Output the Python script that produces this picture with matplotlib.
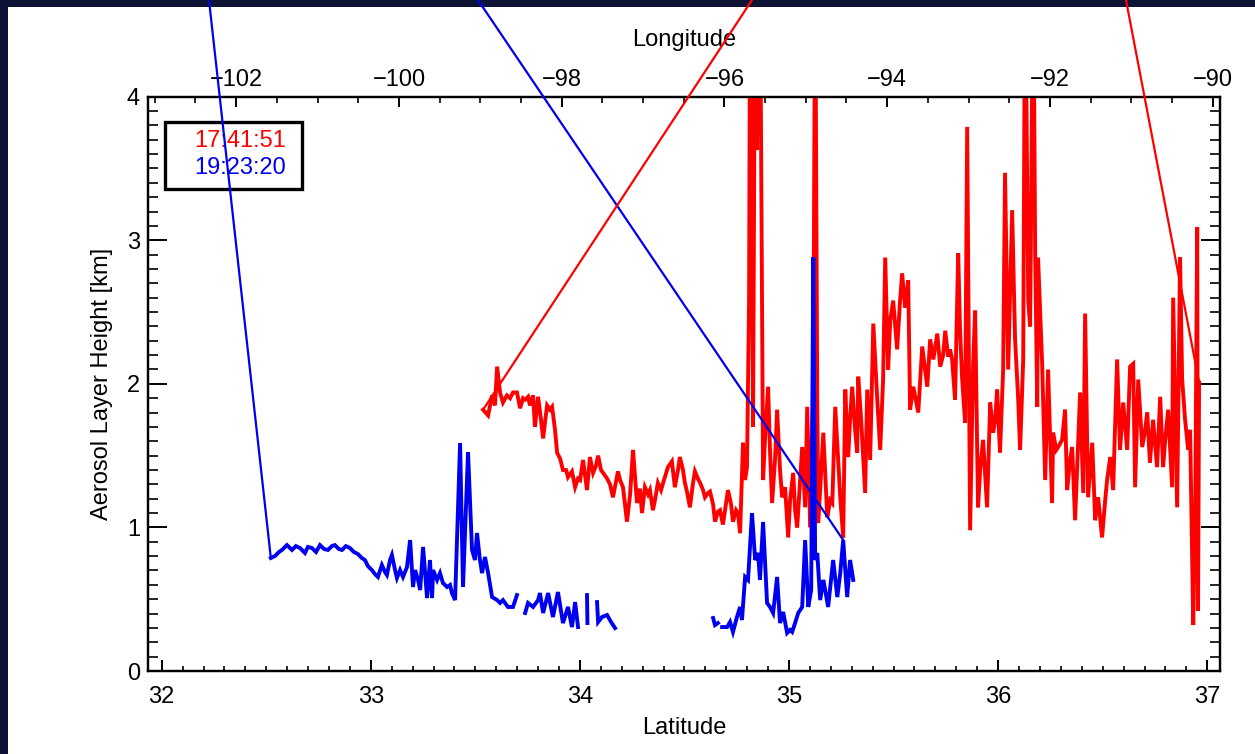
import numpy as np
import matplotlib
matplotlib.use("Agg")
import matplotlib.pyplot as plt
from matplotlib.patches import Rectangle, ConnectionPatch
from matplotlib.ticker import MultipleLocator

# ---------------- data ----------------
red_label = "17:41:51"
blue_label = "19:23:20"

red_lat = [33.537, 33.561, 33.580, 33.594, 33.604, 33.618, 33.632, 33.651, 33.666, 33.680,
           33.699, 33.714, 33.728, 33.738, 33.752, 33.761, 33.776, 33.785, 33.800, 33.814,
           33.824, 33.843, 33.857, 33.867, 33.881, 33.891, 33.905, 33.919, 33.934, 33.943,
           33.962, 33.977, 33.991, 34.001, 34.015, 34.034, 34.048, 34.063, 34.077, 34.087,
           34.101, 34.111, 34.130, 34.144, 34.158, 34.182, 34.192, 34.206, 34.225, 34.240,
           34.254, 34.273, 34.287, 34.297, 34.311, 34.326, 34.335, 34.349, 34.359, 34.373,
           34.388, 34.402, 34.421, 34.440, 34.454, 34.469, 34.478, 34.493, 34.502, 34.512,
           34.526, 34.540, 34.550, 34.564, 34.575, 34.589, 34.598, 34.613, 34.622, 34.637,
           34.646, 34.660, 34.670, 34.684, 34.694, 34.708, 34.723, 34.732, 34.747, 34.756,
           34.766, 34.780, 34.790, 34.799, 34.809, 34.814, 34.823, 34.828, 34.838, 34.847,
           34.852, 34.861, 34.871, 34.876, 34.885, 34.900, 34.909, 34.919, 34.933, 34.943,
           34.957, 34.967, 34.981, 34.996, 35.005, 35.020, 35.029, 35.039, 35.053, 35.063,
           35.077, 35.087, 35.101, 35.116, 35.125, 35.135, 35.140, 35.154, 35.164, 35.183,
           35.197, 35.207, 35.221, 35.235, 35.245, 35.259, 35.269, 35.283, 35.292, 35.302,
           35.316, 35.326, 35.331, 35.345, 35.364, 35.374, 35.388, 35.403, 35.422, 35.436,
           35.450, 35.460, 35.474, 35.484, 35.498, 35.517, 35.531, 35.541, 35.555, 35.570,
           35.579, 35.594, 35.618, 35.637, 35.651, 35.661, 35.675, 35.690, 35.709, 35.723,
           35.737, 35.747, 35.761, 35.770, 35.780, 35.794, 35.809, 35.818, 35.828, 35.842,
           35.852, 35.866, 35.880, 35.890, 35.904, 35.914, 35.928, 35.947, 35.962, 35.976,
           35.986, 35.995, 36.009, 36.024, 36.033, 36.048, 36.067, 36.081, 36.096, 36.105,
           36.120, 36.129, 36.144, 36.153, 36.168, 36.177, 36.187, 36.191, 36.211, 36.225,
           36.239, 36.258, 36.263, 36.278, 36.287, 36.306, 36.320, 36.330, 36.344, 36.354,
           36.368, 36.392, 36.407, 36.416, 36.430, 36.450, 36.464, 36.478, 36.497, 36.512,
           36.521, 36.536, 36.550, 36.569, 36.583, 36.598, 36.617, 36.631, 36.646, 36.655,
           36.670, 36.689, 36.703, 36.713, 36.726, 36.741, 36.760, 36.775, 36.789, 36.799,
           36.813, 36.832, 36.837, 36.856, 36.870, 36.880, 36.894, 36.909, 36.918, 36.933,
           36.942, 36.952, 36.956, 36.961]

red_height = [1.82, 1.78, 1.92, 1.85, 2.12, 1.94, 1.87, 1.92, 1.90, 1.94,
              1.94, 1.83, 1.90, 1.89, 1.91, 1.85, 1.92, 1.70, 1.91, 1.75,
              1.62, 1.85, 1.82, 1.84, 1.68, 1.52, 1.48, 1.40, 1.40, 1.35,
              1.39, 1.28, 1.34, 1.33, 1.47, 1.26, 1.49, 1.38, 1.43, 1.50,
              1.40, 1.38, 1.34, 1.30, 1.21, 1.39, 1.33, 1.28, 1.04, 1.23,
              1.54, 1.17, 1.27, 1.10, 1.28, 1.23, 1.26, 1.12, 1.19, 1.31,
              1.26, 1.33, 1.42, 1.46, 1.28, 1.40, 1.49, 1.40, 1.31, 1.25,
              1.14, 1.30, 1.39, 1.34, 1.31, 1.26, 1.21, 1.24, 1.25, 1.16,
              1.04, 1.11, 1.12, 1.02, 1.12, 1.26, 1.16, 1.04, 1.12, 1.10,
              0.96, 1.59, 1.33, 1.42, 2.58, 5.00, 3.28, 1.70, 5.00, 3.63,
              5.00, 5.00, 2.58, 1.33, 1.61, 1.98, 1.54, 1.17, 1.47, 1.82,
              1.40, 1.21, 1.28, 0.93, 1.19, 1.38, 1.12, 1.00, 1.33, 1.56,
              1.14, 1.84, 1.00, 1.94, 5.00, 1.89, 1.03, 1.40, 1.66, 1.07,
              1.19, 1.17, 1.84, 1.47, 1.21, 0.93, 1.96, 1.49, 1.75, 1.98,
              1.68, 1.52, 2.05, 1.75, 1.24, 1.96, 1.47, 2.42, 1.89, 1.54,
              2.03, 2.88, 2.10, 2.44, 2.58, 2.24, 2.58, 2.77, 2.53, 2.72,
              1.82, 1.98, 1.80, 2.26, 2.10, 1.98, 2.31, 2.17, 2.35, 2.12,
              2.20, 2.37, 2.19, 2.24, 2.17, 1.89, 2.91, 2.37, 2.03, 1.73,
              3.79, 0.98, 2.12, 2.51, 1.14, 1.40, 1.61, 1.14, 1.87, 1.66,
              1.75, 1.96, 1.52, 2.10, 3.47, 2.10, 3.21, 2.31, 1.89, 1.54,
              2.17, 5.00, 2.58, 2.40, 5.00, 2.93, 1.84, 2.88, 2.12, 1.33,
              2.10, 1.17, 1.66, 1.54, 1.56, 1.61, 1.82, 1.26, 1.47, 1.56,
              1.05, 1.94, 1.24, 2.49, 1.21, 1.59, 1.05, 1.21, 0.93, 1.19,
              1.33, 1.49, 1.26, 2.17, 1.54, 1.87, 1.54, 2.12, 2.14, 1.28,
              2.03, 1.56, 1.68, 1.80, 1.45, 1.75, 1.42, 1.91, 1.42, 1.61,
              1.82, 1.28, 2.60, 1.14, 2.88, 2.03, 1.75, 1.54, 1.68, 0.32,
              1.05, 3.09, 0.42, 2.01]

nan = float("nan")
blue_lat = [32.522, 32.542, 32.561, 32.575, 32.599, 32.623, 32.642, 32.661, 32.685, 32.699,
            32.718, 32.738, 32.757, 32.776, 32.795, 32.814, 32.828, 32.847, 32.862, 32.881,
            32.900, 32.919, 32.938, 32.957, 32.972, 32.986, 33.005, 33.020, 33.034, 33.053,
            33.068, 33.077, 33.092, 33.101, 33.116, 33.125, 33.140, 33.154, 33.173, 33.188,
            33.202, 33.212, 33.226, 33.236, 33.250, 33.269, 33.283, 33.293, 33.298, 33.317,
            33.331, 33.345, 33.365, 33.379, 33.388, 33.403, 33.427, 33.441, 33.465, 33.484,
            33.498, 33.508, 33.522, 33.532, 33.546, 33.561, 33.580, 33.604, 33.618, 33.632,
            33.656, 33.680, 33.699, 33.718, 33.738, 33.752, 33.776, 33.800, 33.809, 33.824,
            33.848, 33.871, 33.895, 33.919, 33.943, 33.962, 33.977, 33.991, 34.012, 34.034,
            34.036, 34.060, 34.082, 34.087, 34.106, 34.130, 34.149, 34.168,
            34.400,
            34.637, 34.646, 34.660, 34.670, 34.680, 34.704, 34.718, 34.732, 34.751, 34.766,
            34.775, 34.790, 34.804, 34.823, 34.838, 34.852, 34.861, 34.876, 34.895, 34.909,
            34.924, 34.943, 34.957, 34.972, 34.991, 35.005, 35.015, 35.029, 35.044, 35.063,
            35.077, 35.092, 35.106, 35.116, 35.125, 35.135, 35.149, 35.164, 35.173, 35.187,
            35.211, 35.231, 35.245, 35.259, 35.278, 35.292, 35.307]

blue_height = [0.787, 0.801, 0.829, 0.843, 0.877, 0.843, 0.870, 0.857, 0.822, 0.864,
               0.857, 0.829, 0.877, 0.850, 0.843, 0.870, 0.877, 0.850, 0.843, 0.870,
               0.857, 0.829, 0.815, 0.787, 0.773, 0.731, 0.703, 0.675, 0.655, 0.738,
               0.689, 0.669, 0.773, 0.808, 0.703, 0.648, 0.703, 0.655, 0.724, 0.912,
               0.585, 0.703, 0.634, 0.564, 0.864, 0.508, 0.773, 0.508, 0.703, 0.634,
               0.682, 0.613, 0.585, 0.599, 0.543, 0.494, 1.588, 0.585, 1.525, 0.843,
               0.773, 0.961, 0.773, 0.682, 0.794, 0.682, 0.515, 0.494, 0.474, 0.494,
               0.446, 0.446, 0.529, nan, 0.404, 0.474, 0.446, 0.494, 0.543, 0.404,
               0.543, 0.376, 0.550, 0.334, 0.446, 0.306, 0.480, 0.306, nan, 0.529,
               0.334, nan, 0.480, 0.341, 0.376, 0.390, 0.341, 0.299,
               nan,
               0.369, 0.320, 0.334, nan, 0.306, 0.306, 0.341, 0.272, 0.376, 0.446,
               0.355, 0.655, 0.634, 1.100, 0.773, 0.822, 0.634, 1.038, 0.474, 0.446,
               0.404, 0.655, 0.334, 0.411, 0.265, 0.286, 0.272, 0.334, 0.404, 0.446,
               0.912, 0.446, 0.564, 2.883, 0.773, 0.822, 0.494, 0.634, 0.564, 0.446,
               0.773, 0.515, 0.682, 0.912, 0.515, 0.773, 0.634]

lat_ticks = [32, 33, 34, 35, 36, 37]
lon_ticks = [-102, -100, -98, -96, -94, -92, -90]
height_ticks = [0, 1, 2, 3, 4]
lat_limits = (31.936, 37.061)
lon_limits = (-103.08, -89.91)
height_limits = (0, 4)

# ---------------- figure ----------------
plt.rcParams["font.family"] = ["Liberation Sans", "DejaVu Sans"]
FS = 17
RED = "#ff0000"
BLUE = "#0000f0"

W, H = 1255, 754
fig = plt.figure(figsize=(W / 100, H / 100), dpi=100, facecolor="#0c1335")
fig.add_artist(Rectangle((8 / W, 0), 1 - 8 / W, 1 - 7 / H, transform=fig.transFigure,
                         facecolor="white", edgecolor="none", zorder=-10))

ax = fig.add_axes([148.3 / W, 1 - 671 / H, 1071.7 / W, 574.3 / H])
ax.set_facecolor("white")

ax.plot(red_lat, red_height, color=RED, lw=2.8, solid_joinstyle="miter", zorder=3)
ax.plot(blue_lat, blue_height, color=BLUE, lw=2.8, solid_joinstyle="miter", zorder=4)

ax.set_xlim(lat_limits)
ax.set_ylim(height_limits)
ax.set_xticks(lat_ticks)
ax.set_yticks(height_ticks)
ax.xaxis.set_minor_locator(MultipleLocator(0.1))
ax.yaxis.set_minor_locator(MultipleLocator(0.1))

ax.tick_params(axis="x", which="major", direction="in", length=8, width=1.4,
               labelsize=FS, pad=11, top=False)
ax.tick_params(axis="x", which="minor", direction="in", length=3.3, width=1.2, top=False)
ax.tick_params(axis="y", which="major", direction="in", length=14, width=1.4,
               labelsize=FS, pad=6, left=True, right=True)
ax.tick_params(axis="y", which="minor", direction="in", length=7, width=1.2,
               left=True, right=True)
for s in ax.spines.values():
    s.set_linewidth(1.6)

ax.set_xlabel("Latitude", fontsize=FS, labelpad=6)
ax.set_ylabel("Aerosol Layer Height [km]", fontsize=FS, labelpad=10)

ax2 = ax.twiny()
ax2.set_xlim(lon_limits)
ax2.set_xticks(lon_ticks)
ax2.xaxis.set_minor_locator(MultipleLocator(0.5))
ax2.tick_params(axis="x", which="major", direction="in", length=7, width=1.4,
                labelsize=FS, pad=4)
ax2.tick_params(axis="x", which="minor", direction="in", length=4, width=1.2)
for s in ax2.spines.values():
    s.set_linewidth(1.6)
ax2.set_xlabel("Longitude", fontsize=FS, labelpad=17)

# legend box
ax.add_patch(Rectangle((0.0156, 0.839), 0.128, 0.117, transform=ax.transAxes,
                       facecolor="white", edgecolor="black", lw=2.4, zorder=5))
ax.text(0.086, 0.923, red_label, transform=ax.transAxes, color=RED, fontsize=FS,
        ha="center", va="center", zorder=6)
ax.text(0.086, 0.876, blue_label, transform=ax.transAxes, color=BLUE, fontsize=FS,
        ha="center", va="center", zorder=6)

# lines linking the track ends to the map above the chart
blue_lat_arr = np.array(blue_lat)
blue_end = int(np.nanargmin(np.abs(blue_lat_arr - 35.259)))
links = [
    (209 / W, (blue_lat[0], blue_height[0]), BLUE),
    (478 / W, (blue_lat[blue_end], blue_height[blue_end]), BLUE),
    (752 / W, (red_lat[0], red_height[0]), RED),
    (1126 / W, (red_lat[-1], red_height[-1]), RED),
]
for fx, xy, col in links:
    con = ConnectionPatch(xyA=(fx, 1.0), coordsA="figure fraction", xyB=xy,
                          coordsB="data", axesB=ax, color=col, lw=1.6, zorder=20)
    fig.add_artist(con)

fig.savefig("out.png", dpi=100, facecolor=fig.get_facecolor())
